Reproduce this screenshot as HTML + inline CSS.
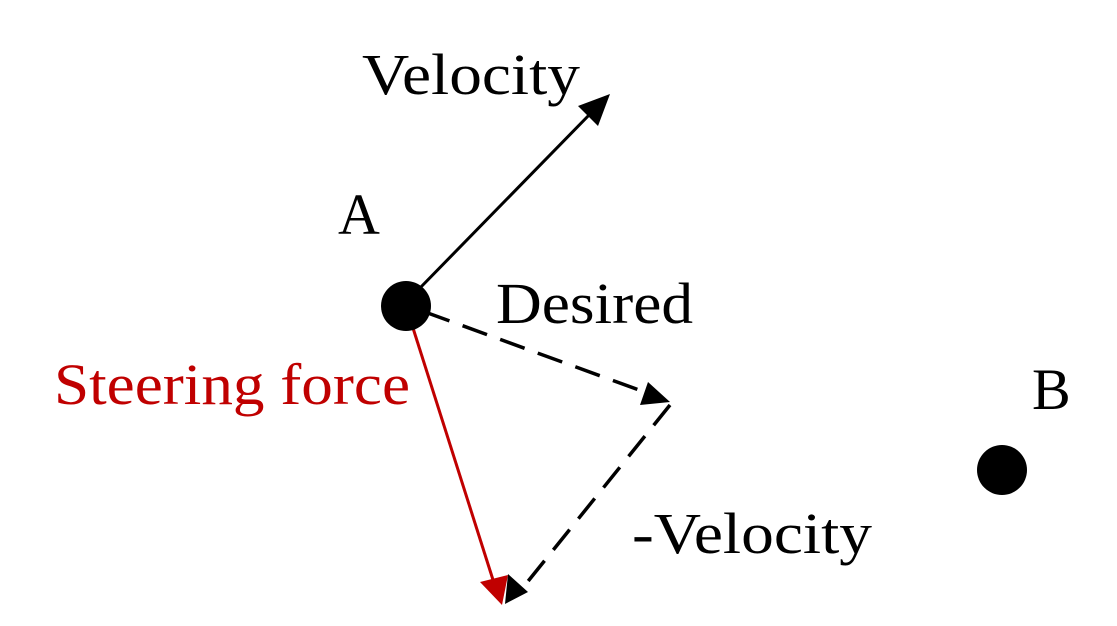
<!DOCTYPE html>
<html><head><meta charset="utf-8"><style>
html,body{margin:0;padding:0;background:#fff;}
svg{display:block;}
text{font-family:"Liberation Serif",serif;font-size:58px;}
</style></head><body>
<svg width="1117" height="626" viewBox="0 0 1117 626">
<g>
<line x1="418" y1="290" x2="592" y2="112" stroke="#000" stroke-width="3"/>
<polygon points="610,94 598,126 578,106" fill="#000"/>
</g>
<g>
<line x1="425" y1="312" x2="650" y2="394" stroke="#000" stroke-width="3.5" stroke-dasharray="26,14"/>
<polygon points="670,402 640,405 648,382" fill="#000"/>
</g>
<g>
<line x1="670" y1="405" x2="525" y2="585" stroke="#000" stroke-width="3.5" stroke-dasharray="26,14"/>
<polygon points="528,592 505,604 508,574" fill="#000"/>
</g>
<g>
<line x1="406" y1="306" x2="494" y2="583" stroke="#c00000" stroke-width="3"/>
<polygon points="502,605 480,582 508,575" fill="#c00000"/>
</g>
<circle cx="406" cy="306" r="25" fill="#000"/>
<circle cx="1002" cy="470" r="25" fill="#000"/>
<text x="362" y="94" textLength="218" lengthAdjust="spacingAndGlyphs">Velocity</text>
<text x="338" y="234">A</text>
<text x="496" y="323" textLength="197" lengthAdjust="spacingAndGlyphs">Desired</text>
<text x="54" y="404" fill="#c00000" textLength="356" lengthAdjust="spacingAndGlyphs">Steering force</text>
<text x="1032" y="409">B</text>
<text x="632" y="553" textLength="240" lengthAdjust="spacingAndGlyphs">-Velocity</text>
</svg>
</body></html>
